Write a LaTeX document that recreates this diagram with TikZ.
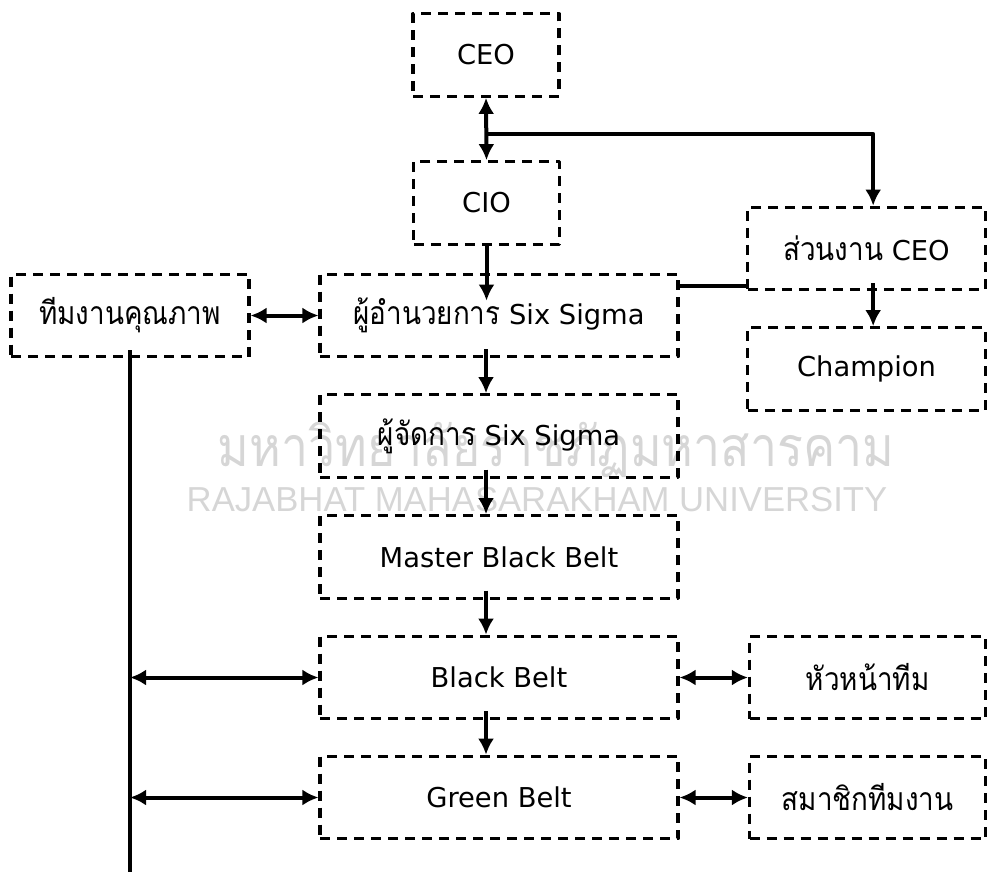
\documentclass[tikz,border=0pt]{standalone}
\usepackage{fontspec}
\setmainfont{DejaVu Sans}
\newfontfamily\thaifont[Script=Thai, FakeStretch=0.87, Scale=1.17]{Loma}
\newfontfamily\markfont{Liberation Sans}
\usetikzlibrary{arrows.meta, positioning, calc}
\definecolor{mark_grey}{gray}{0.84}
\tikzset{
  box/.style={draw, dash pattern=on 7.5pt off 5.25pt, line width=2.3pt,
    minimum height=62pt, inner sep=0pt, font=\fontsize{20.5}{24}\selectfont},
  link/.style={line width=3pt},
  arr/.style={link, -{Latex[length=12pt,width=12pt]}},
  arrboth/.style={link, {Latex[length=12pt,width=12pt]}-{Latex[length=12pt,width=12pt]}},
}

\begin{document}
\begin{tikzpicture}[x=0.75pt, y=-0.75pt, line join=round]
	\useasboundingbox (0,0) rectangle (987,872);

	% watermark
	\node[mark_grey, font=\thaifont\fontsize{35.5}{42}\selectfont] (mark_th) at (556,450) {มหาวิทยาลัยราชภัฏมหาสารคาม};
	\node[mark_grey, font=\markfont\fontsize{26}{30}\selectfont] (mark_en) at (537,500) {RAJABHAT MAHASARAKHAM UNIVERSITY};

	% boxes
	\node[box, minimum width=109.5pt] (ceo) at (486,55) {CEO};
	\node[box, minimum width=109pt] (cio) at (486.5,203) {CIO};
	\node[box, minimum width=178pt] (sec) at (866.5,248.5) {{\thaifont ส่วนงาน} CEO};
	\node[box, minimum width=178pt] (champ) at (866.5,369) {Champion};
	\node[box, minimum width=178.5pt] (team) at (130,315.5) {\thaifont ทีมงานคุณภาพ};
	\node[box, minimum width=268.5pt] (dir) at (499,315.5) {{\thaifont ผู้อำนวยการ} Six Sigma};
	\node[box, minimum width=268.5pt] (mgr) at (499,436) {{\thaifont ผู้จัดการ} Six Sigma};
	\node[box, minimum width=268.5pt] (mbb) at (499,557) {Master Black Belt};
	\node[box, minimum width=268.5pt] (bb) at (499,677.5) {Black Belt};
	\node[box, minimum width=268.5pt] (gb) at (499,797.5) {Green Belt};
	\node[box, minimum width=177pt] (lead) at (867.5,677.5) {\thaifont หัวหน้าทีม};
	\node[box, minimum width=177pt] (memb) at (867.5,797.5) {\thaifont สมาชิกทีมงาน};

	\coordinate (split) at ($(ceo.south)!0.58!(cio.north)$);
	\coordinate (team_end) at (team.south |- 0,872);

	% links
	\draw[arrboth] (ceo.south) -- (cio.north);
	\draw[arr] (split) -| ([xshift=5pt]sec.north);
	\draw[arr] (cio.south) -- ([yshift=-21pt]dir.north -| cio.south);
	\draw[link] ([yshift=4pt]sec.south west) -- ([yshift=4pt]sec.south west -| dir.east);
	\draw[arr, shorten <=-6pt] ([xshift=5pt]sec.south) -- ([xshift=5pt]champ.north);
	\draw[arrboth] (team.east) -- (dir.west);
	\foreach \a/\b in {dir/mgr, mgr/mbb, mbb/bb, bb/gb}
		\draw[arr, shorten <=-7pt] (\a.south -| ceo.south) -- (\b.north -| ceo.south);
	\draw[link, shorten <=-6pt] (team.south) -- (team_end);
	\draw[arrboth] (bb.west -| team.south) -- (bb.west);
	\draw[arrboth] (gb.west -| team.south) -- (gb.west);
	\draw[arrboth] (bb.east) -- (lead.west);
	\draw[arrboth] (gb.east) -- (memb.west);

\end{tikzpicture}
\end{document}
